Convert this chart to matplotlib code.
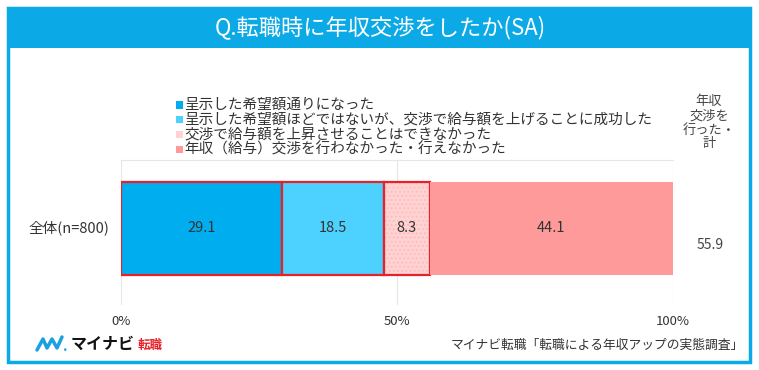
import matplotlib
matplotlib.use("Agg")
import matplotlib.pyplot as plt
from matplotlib.patches import Rectangle

plt.rcParams["font.family"] = ["Noto Sans CJK JP", "DejaVu Sans"]

title = "Q.転職時に年収交渉をしたか(SA)"
category = "全体(n=800)"
series_labels = [
    "呈示した希望額通りになった",
    "呈示した希望額ほどではないが、交渉で給与額を上げることに成功した",
    "交渉で給与額を上昇させることはできなかった",
    "年収（給与）交渉を行わなかった・行えなかった",
]
values = [29.1, 18.5, 8.3, 44.1]
total_label = "55.9"
total_header = "年収\n交渉を\n行った・\n計"
ticks = [0, 50, 100]
source = "マイナビ転職「転職による年収アップの実態調査」"

colors = ["#00AEEF", "#4DD2FF", "#FFD3D3", "#FF9A9A"]
edge = "#E8202A"
blue = "#0BAAE6"

fig = plt.figure(figsize=(7.59, 3.70), dpi=100)
W, H = 759, 370


def fx(px):
    return px / W


def fy(py):
    return 1 - py / H


# frame + title bar
fig.patches.append(Rectangle((fx(8), fy(362)), fx(742), 354 / H, transform=fig.transFigure,
                             fill=False, edgecolor=blue, lw=2.5))
fig.patches.append(Rectangle((fx(8), fy(48)), fx(742), 41 / H, transform=fig.transFigure,
                             facecolor=blue, edgecolor="none"))
fig.text(fx(380), fy(27), title, color="white", fontsize=16, ha="center", va="center")

ax = fig.add_axes([fx(121), fy(305), 552 / W, 145 / H])
left = 0
for i, (v, c) in enumerate(zip(values, colors)):
    if i == 2:
        ax.barh(0.528, v, left=left, height=0.64, color=c, hatch="....", edgecolor="#FFBDBD", lw=0)
        ax.barh(0.528, v, left=left, height=0.64, fill=False, edgecolor=edge, lw=1.6)
    elif i < 2:
        ax.barh(0.528, v, left=left, height=0.64, color=c, edgecolor=edge, lw=1.6)
    else:
        ax.barh(0.528, v, left=left, height=0.64, color=c, lw=0)
    ax.text(left + v / 2, 0.528, f"{v:.1f}", ha="center", va="center", fontsize=10.5, color="#333333")
    left += v

ax.set_xlim(0, 100)
ax.set_ylim(0, 1)
ax.set_xticks(ticks)
ax.set_xticklabels([f"{t}%" for t in ticks], fontsize=9.5, color="#333333")
ax.set_yticks([])
ax.tick_params(axis="x", length=0, pad=7)
ax.grid(axis="x", color="#E6E6E6", lw=0.8)
ax.set_axisbelow(True)
for s in ["left", "right", "bottom"]:
    ax.spines[s].set_visible(False)
ax.spines["top"].set_color("#E6E6E6")
ax.spines["top"].set_linewidth(0.8)

fig.text(fx(109), fy(228), category, ha="right", va="center", fontsize=10.5, color="#333333")
fig.text(fx(710), fy(245), total_label, ha="center", va="center", fontsize=10, color="#444444")
fig.text(fx(709), fy(123), total_header, ha="center", va="center", fontsize=9.5,
         color="#444444", linespacing=1.1)

# legend
for i, (lab, c) in enumerate(zip(series_labels, colors)):
    y = 105 + i * 14.7
    fig.patches.append(Rectangle((fx(176), fy(y + 3.5)), 7 / W, 7 / H, transform=fig.transFigure,
                                 facecolor=c, edgecolor="none"))
    fig.text(fx(184), fy(y), lab, ha="left", va="center", fontsize=10.5, color="#333333",
             linespacing=1.0)

# logo
fig.lines.append(plt.Line2D([fx(37), fx(43), fx(47), fx(52), fx(57), fx(62)],
                            [fy(350), fy(339), fy(348), fy(339), fy(348), fy(337)],
                            transform=fig.transFigure, color="#1BA0E2", lw=2.5,
                            solid_capstyle="round", solid_joinstyle="round"))
fig.text(fx(63), fy(347), ".", fontsize=10, fontweight="bold", color="#1BA0E2", ha="left", va="center")
fig.text(fx(71), fy(344), "マイナビ", fontsize=11.5, fontweight="bold", color="#111111", ha="left", va="center")
fig.text(fx(138), fy(345), "転職", fontsize=9, fontweight="bold", color="#E8202A", ha="left", va="center")

fig.text(fx(744), fy(345), source, ha="right", va="center", fontsize=9.2, color="#333333")

fig.savefig("out.png", dpi=100)
